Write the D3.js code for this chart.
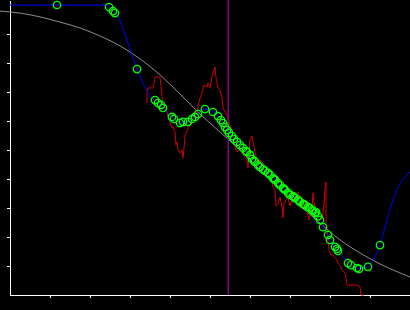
<!DOCTYPE html>
<html>
<head>
<meta charset="utf-8">
<script src="https://cdn.jsdelivr.net/npm/d3@7"></script>
<style>
  body { margin: 0; background: #000; }
  svg { display: block; background: #000; }
</style>
</head>
<body>
<svg id="chart" width="410" height="310"></svg>
<script>
// smooth reference curve (gray)
const fitX = [-0.25, 0.25, 0.75, 1.25, 1.75, 2.25, 2.75, 3.25, 3.75, 4.25, 4.75, 5.25, 5.75, 6.25, 6.75, 7.25, 7.75, 8.25, 8.75, 9.25, 10.0];
const fitY = [9.79, 9.72, 9.59, 9.41, 9.21, 8.93, 8.59, 8.14, 7.59, 6.93, 6.24, 5.62, 5.00, 4.31, 3.69, 3.07, 2.48, 1.90, 1.45, 1.07, 0.62];

// noisy measurement (red)
const rawX = [3.425, 3.425, 3.45, 3.575, 3.625, 3.75, 3.825, 3.875, 3.925, 3.95, 4.05, 4.075, 4.125, 4.15, 4.175, 4.2, 4.25, 4.3, 4.325, 4.35,
  4.375, 4.425, 4.45, 4.5, 4.55, 4.625, 4.675, 4.7, 4.75, 4.8, 4.85, 4.925, 4.95, 5.0, 5.05, 5.075, 5.125, 5.15, 5.175, 5.2,
  5.25, 5.3, 5.325, 5.375, 5.425, 5.45, 5.5, 5.55, 5.575, 5.625, 5.675, 5.75, 5.825, 5.925, 5.95, 6.0, 6.05, 6.075, 6.125, 6.175,
  6.2, 6.25, 6.325, 6.375, 6.425, 6.45, 6.55, 6.575, 6.625, 6.65, 6.7, 6.75, 6.8, 6.825, 6.85, 6.9, 6.95, 7.0, 7.05, 7.075,
  7.125, 7.175, 7.2, 7.25, 7.3, 7.325, 7.375, 7.425, 7.475, 7.55, 7.575, 7.6, 7.675, 7.725, 7.775, 7.8, 7.85, 7.875, 7.9, 7.9,
  7.925, 7.95, 7.975, 8.025, 8.075, 8.125, 8.175, 8.2, 8.25, 8.3, 8.375, 8.4, 8.425, 8.575, 8.7, 8.75, 8.775, 8.85];
const rawY = [6.62, 6.97, 7.14, 7.14, 7.52, 7.52, 6.55, 6.48, 6.31, 6.14, 5.76, 5.79, 5.62, 5.17, 5.28, 5.0, 4.90, 5.0, 4.72, 5.07,
  5.52, 5.62, 5.76, 5.86, 6.03, 6.14, 6.21, 6.55, 6.79, 6.97, 7.24, 7.17, 7.31, 7.14, 7.52, 7.66, 7.86, 7.48, 7.34, 7.14,
  7.07, 6.83, 6.45, 6.31, 6.17, 6.07, 5.86, 5.69, 5.52, 5.10, 4.93, 5.03, 4.83, 4.66, 4.38, 5.34, 5.48, 5.28, 4.93, 4.66,
  4.59, 4.66, 4.55, 4.38, 4.24, 4.17, 3.97, 3.72, 3.62, 3.07, 3.17, 3.38, 3.03, 2.66, 3.17, 3.28, 3.38, 3.07, 3.28, 3.45,
  3.28, 3.52, 3.55, 3.34, 3.21, 3.03, 3.28, 2.86, 2.59, 3.03, 3.52, 3.17, 2.83, 2.69, 2.66, 2.59, 3.10, 3.69, 3.90, 2.48,
  2.24, 1.90, 1.55, 1.38, 1.38, 1.28, 1.21, 1.10, 1.03, 0.86, 0.76, 0.59, 0.34, 0.34, 0.34, 0.28, 0.0, 0.0];

// interpolated track (blue)
const trackX = [0, 2.25, 2.425, 2.55, 2.65, 2.75, 2.925, 3.05, 3.175, 3.325, 3.45, 3.625, 3.775, 3.9, 4.05, 4.25, 4.45, 4.625, 4.75, 4.875,
  5.075, 5.25, 5.5, 5.75, 6.0, 6.25, 6.5, 6.75, 7.0, 7.25, 7.5, 7.7, 7.825, 7.95, 8.075, 8.2, 8.375, 8.5, 8.7, 8.95,
  9.1, 9.25, 9.375, 9.55, 9.7, 9.875, 10.0];
const trackY = [10, 10, 9.97, 9.83, 9.69, 9.45, 8.79, 8.28, 7.79, 7.31, 6.97, 6.69, 6.52, 6.34, 6.14, 5.93, 5.97, 6.14, 6.31, 6.41,
  6.31, 6.10, 5.59, 5.17, 4.83, 4.41, 4.14, 3.79, 3.45, 3.21, 3.0, 2.72, 2.34, 2.03, 1.72, 1.52, 1.24, 1.07, 0.93, 0.97,
  1.28, 1.72, 2.34, 3.17, 3.72, 4.07, 4.24];

// sample points (circles)
const pointX = [1.175, 2.475, 2.575, 2.625, 3.175, 3.625, 3.7, 3.775, 3.825, 4.05, 4.1, 4.25, 4.325, 4.45, 4.55, 4.625, 4.7, 4.875, 5.075, 5.2,
  5.275, 5.325, 5.375, 5.425, 5.475, 5.55, 5.6, 5.675, 5.75, 5.825, 5.925, 6.0, 6.05, 6.125, 6.2, 6.25, 6.325, 6.375, 6.45, 6.5,
  6.575, 6.625, 6.7, 6.75, 6.825, 6.875, 6.95, 7.0, 7.075, 7.125, 7.2, 7.25, 7.325, 7.375, 7.45, 7.5, 7.575, 7.625, 7.7, 7.75,
  7.825, 7.95, 8.0, 8.125, 8.175, 8.2, 8.45, 8.525, 8.675, 8.725, 8.95, 9.25,
  5.9, 6.1, 6.6, 6.85, 7.1, 7.35, 7.55, 7.65];
const pointY = [10.0, 9.93, 9.79, 9.72, 7.79, 6.72, 6.62, 6.55, 6.45, 6.14, 6.07, 5.93, 5.97, 5.97, 6.07, 6.14, 6.24, 6.41, 6.31, 6.17,
  6.03, 5.93, 5.79, 5.69, 5.59, 5.48, 5.38, 5.28, 5.17, 5.07, 4.93, 4.83, 4.69, 4.59, 4.48, 4.41, 4.34, 4.28, 4.21, 4.14,
  4.03, 3.97, 3.86, 3.79, 3.69, 3.62, 3.52, 3.45, 3.41, 3.34, 3.28, 3.21, 3.14, 3.10, 3.03, 3.0, 2.90, 2.83, 2.72, 2.59,
  2.34, 2.07, 1.90, 1.66, 1.59, 1.52, 1.10, 1.03, 0.93, 0.90, 0.97, 1.72,
  4.97, 4.62, 4.00, 3.66, 3.38, 3.12, 2.93, 2.86];

const markerX = 5.455;
const ticksX = [1, 2, 3, 4, 5, 6, 7, 8, 9, 10];
const ticksY = [1, 2, 3, 4, 5, 6, 7, 8, 9];

const svg = d3.select("#chart");

let x = d3.scaleLinear().domain([0, 10]).range([10, 410]);
let y = d3.scaleLinear().domain([0, 295 / 29]).range([295, 0]);

function zipPts(xs, ys) {
    return xs.map(function (v, i) { return [v, ys[i]]; });
}

// axes
svg.append("g")
    .attr("transform", "translate(0,295)")
    .call(d3.axisBottom(x).tickValues(ticksX).tickFormat("").tickSizeInner(3).tickSizeOuter(0));
svg.append("g")
    .attr("transform", "translate(10,0)")
    .call(d3.axisLeft(y).tickValues(ticksY).tickFormat("").tickSizeInner(3).tickSizeOuter(0));
svg.selectAll(".domain, .tick line")
    .attr("stroke", "#fff")
    .attr("stroke-width", 1.4)
    .attr("shape-rendering", "crispEdges");

let line = d3.line()
    .x(function (d) { return x(d[0]); })
    .y(function (d) { return y(d[1]); });

// gray fit
svg.append("path")
    .datum(zipPts(fitX, fitY))
    .attr("fill", "none")
    .attr("stroke", "#8c8c8c")
    .attr("stroke-width", 1)
    .attr("d", line.curve(d3.curveMonotoneX));

// red measurement
svg.append("path")
    .datum(zipPts(rawX, rawY))
    .attr("fill", "none")
    .attr("stroke", "#d00000")
    .attr("stroke-width", 1)
    .attr("d", line.curve(d3.curveLinear));

// purple marker
svg.append("line")
    .attr("x1", x(markerX)).attr("x2", x(markerX))
    .attr("y1", 0).attr("y2", y(0))
    .attr("stroke", "#8b008b")
    .attr("stroke-width", 1.5);

// blue track
svg.append("path")
    .datum(zipPts(trackX, trackY))
    .attr("fill", "none")
    .attr("stroke", "#0000ff")
    .attr("stroke-width", 1)
    .attr("d", line.curve(d3.curveMonotoneX));

// circles
svg.append("g")
    .selectAll("circle")
    .data(zipPts(pointX, pointY))
    .join("circle")
    .attr("cx", function (d) { return x(d[0]); })
    .attr("cy", function (d) { return y(d[1]); })
    .attr("r", 3.7)
    .attr("fill", "none")
    .attr("stroke", "#00ff00")
    .attr("stroke-width", 1.3);
</script>
</body>
</html>
